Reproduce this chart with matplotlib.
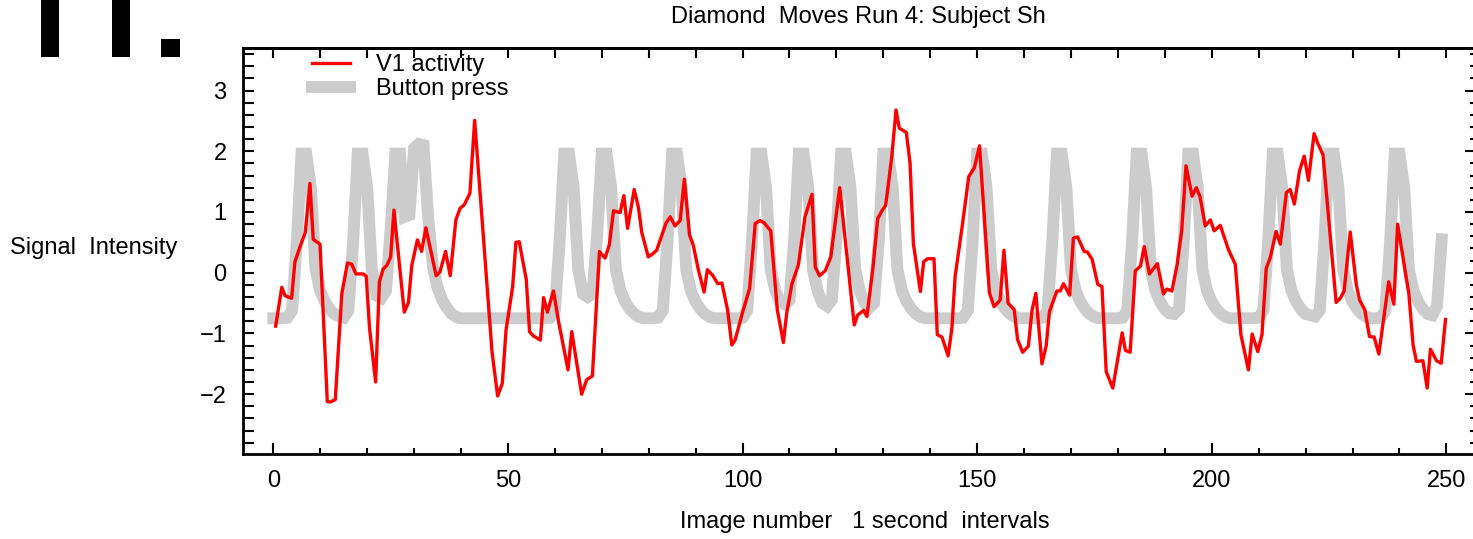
import numpy as np
import matplotlib
matplotlib.use("Agg")
import matplotlib.pyplot as plt
from matplotlib.patches import Rectangle
from matplotlib.ticker import MultipleLocator

plt.rcParams["font.family"] = ["Liberation Sans", "DejaVu Sans"]

# V1 activity (red)
red_x = [0.5, 1.8, 2.5, 3.9, 4.6, 5.7, 6.8, 7.8, 8.5, 9.95,
         11.5, 12.1, 13.2, 14.6, 15.8, 16.7, 17.6, 19.2, 19.8, 20.5,
         21.8, 22.6, 23.4, 24.2, 25.0, 25.7, 27.9, 28.8, 29.5, 30.7,
         31.6, 32.5, 34.7, 35.5, 36.7, 37.7, 38.9, 39.8, 40.7, 41.9,
         42.9, 46.6, 47.8, 48.8, 49.6, 51.0, 51.7, 52.4, 53.9, 54.6,
         55.4, 56.9, 57.6, 58.4, 59.7, 60.8, 62.8, 63.6, 65.7, 66.8,
         68.0, 69.5, 70.7, 71.6, 72.5, 73.9, 74.7, 75.5, 76.9, 77.8,
         78.5, 79.9, 81.0, 81.7, 83.7, 84.6, 85.6, 86.7, 87.6, 88.7,
         89.5, 90.6, 91.8, 92.5, 93.7, 94.7, 95.6, 96.8, 97.7, 98.4,
         100.2, 101.5, 102.7, 103.7, 104.6, 106.0, 107.4, 108.7, 109.4, 110.5,
         111.9, 113.3, 114.8, 115.5, 116.4, 117.6, 118.8, 120.7, 123.8, 124.5,
         125.8, 126.5, 127.8, 128.8, 129.7, 130.5, 131.8, 132.7, 133.4, 134.9,
         135.7, 136.4, 137.9, 138.6, 139.4, 140.8, 141.5, 142.5, 143.8, 144.6,
         145.3, 146.8, 148.2, 149.4, 150.5, 152.6, 153.6, 154.9, 155.7, 156.6,
         157.9, 158.6, 159.7, 160.9, 161.7, 162.5, 163.8, 164.7, 165.4, 167.0,
         167.7, 168.4, 169.7, 170.5, 171.4, 172.8, 173.5, 174.5, 175.7, 176.6,
         177.5, 178.9, 180.9, 181.6, 182.6, 183.7, 184.8, 185.6, 186.7, 188.4,
         189.7, 190.4, 191.5, 192.6, 193.6, 194.5, 195.8, 196.7, 197.5, 198.6,
         199.7, 200.5, 201.8, 203.6, 205.0, 206.2, 207.8, 208.6, 209.8, 210.7,
         211.6, 212.5, 213.7, 214.6, 215.9, 216.7, 217.6, 218.7, 219.7, 220.6,
         221.8, 222.6, 223.7, 226.5, 227.4, 228.2, 229.5, 230.8, 231.5, 232.6,
         233.6, 234.6, 235.6, 237.7, 238.8, 239.6, 240.5, 242.0, 242.9, 243.6,
         245.0, 245.9, 246.6, 247.9, 248.9, 249.8]
red_y = [-0.88, -0.24, -0.38, -0.42, 0.18, 0.43, 0.66, 1.47, 0.55, 0.47,
         -2.12, -2.13, -2.09, -0.34, 0.16, 0.14, -0.02, -0.02, -0.06, -0.91,
         -1.80, -0.15, 0.06, 0.12, 0.26, 1.03, -0.65, -0.49, 0.12, 0.54,
         0.35, 0.74, -0.05, 0.01, 0.35, -0.05, 0.87, 1.06, 1.12, 1.31,
         2.51, -1.30, -2.03, -1.82, -0.94, -0.23, 0.50, 0.51, -0.11, -0.97,
         -1.04, -1.11, -0.41, -0.65, -0.30, -0.81, -1.60, -0.97, -2.00, -1.76,
         -1.70, 0.35, 0.24, 0.46, 1.02, 0.99, 1.27, 0.73, 1.37, 1.08,
         0.67, 0.26, 0.32, 0.37, 0.82, 0.92, 0.77, 0.86, 1.54, 0.62,
         0.45, 0.04, -0.32, 0.05, -0.05, -0.18, -0.17, -0.61, -1.19, -1.11,
         -0.60, -0.26, 0.81, 0.86, 0.82, 0.69, -0.61, -1.15, -0.67, -0.19,
         0.13, 0.92, 1.29, 0.09, -0.05, 0.03, 0.26, 1.40, -0.86, -0.70,
         -0.62, -0.72, 0.09, 0.89, 1.02, 1.11, 1.91, 2.68, 2.38, 2.31,
         1.80, 0.48, -0.31, 0.18, 0.23, 0.23, -1.02, -1.06, -1.37, -0.92,
         -0.06, 0.76, 1.58, 1.73, 2.09, -0.33, -0.56, -0.45, 0.37, -0.50,
         -0.61, -1.10, -1.31, -1.21, -0.61, -0.34, -1.50, -1.21, -0.64, -0.30,
         -0.30, -0.18, -0.37, 0.57, 0.59, 0.35, 0.34, 0.22, -0.19, -0.23,
         -1.63, -1.90, -0.99, -1.28, -1.31, 0.03, 0.11, 0.43, -0.02, 0.15,
         -0.35, -0.27, -0.30, 0.13, 0.70, 1.76, 1.26, 1.40, 1.25, 0.77,
         0.87, 0.69, 0.78, 0.37, 0.14, -1.02, -1.60, -1.01, -1.30, -1.02,
         0.07, 0.26, 0.68, 0.47, 1.32, 1.37, 1.13, 1.68, 1.92, 1.52,
         2.29, 2.13, 1.94, -0.49, -0.42, -0.30, 0.67, -0.20, -0.45, -0.61,
         -1.05, -1.06, -1.34, -0.15, -0.52, 0.80, 0.37, -0.35, -1.19, -1.46,
         -1.45, -1.90, -1.26, -1.45, -1.49, -0.77]

# Button press regressor (grey), one value per image 0..249
gray_y = [-0.75, -0.75, -0.75, -0.74, -0.62, 0.50, 1.96, 1.96, 1.40, 0.05,
          -0.30, -0.48, -0.60, -0.68, -0.72, -0.74, -0.62, 0.50, 1.96, 1.96,
          1.40, 0.05, -0.38, -0.42, -0.30, 0.70, 1.96, 1.96, 0.92, 0.95,
          2.05, 2.12, 2.10, 0.90, 0.10, -0.25, -0.45, -0.58, -0.68, -0.73,
          -0.75, -0.75, -0.75, -0.75, -0.75, -0.75, -0.75, -0.75, -0.75, -0.75,
          -0.75, -0.75, -0.75, -0.75, -0.75, -0.75, -0.75, -0.75, -0.75, -0.74,
          -0.62, 0.50, 1.96, 1.96, 1.40, 0.05, -0.35, -0.40, -0.35, 0.60,
          1.96, 1.96, 1.40, 0.05, -0.30, -0.48, -0.60, -0.68, -0.73, -0.75,
          -0.75, -0.75, -0.74, -0.62, 0.50, 1.96, 1.96, 1.40, 0.05, -0.30,
          -0.48, -0.60, -0.68, -0.73, -0.75, -0.75, -0.75, -0.75, -0.75, -0.75,
          -0.74, -0.62, 0.50, 1.96, 1.96, 1.40, 0.05, -0.30, -0.48, -0.52,
          -0.45, 0.55, 1.96, 1.96, 1.40, 0.05, -0.30, -0.50, -0.55, -0.45,
          0.55, 1.96, 1.96, 1.40, 0.05, -0.30, -0.50, -0.58, -0.50, 0.50,
          1.96, 1.96, 1.40, 0.05, -0.30, -0.48, -0.60, -0.68, -0.73, -0.75,
          -0.75, -0.75, -0.75, -0.75, -0.75, -0.75, -0.75, -0.74, -0.62, 0.50,
          1.96, 1.96, 1.40, 0.05, -0.30, -0.48, -0.60, -0.68, -0.73, -0.75,
          -0.75, -0.75, -0.75, -0.75, -0.74, -0.62, 0.50, 1.96, 1.96, 1.40,
          0.05, -0.30, -0.48, -0.60, -0.68, -0.73, -0.75, -0.75, -0.75, -0.75,
          -0.75, -0.74, -0.62, 0.50, 1.96, 1.96, 1.40, 0.05, -0.30, -0.48,
          -0.60, -0.67, -0.68, -0.60, 0.50, 1.96, 1.96, 1.40, 0.05, -0.30,
          -0.48, -0.60, -0.68, -0.73, -0.75, -0.75, -0.75, -0.75, -0.75, -0.75,
          -0.74, -0.62, 0.50, 1.96, 1.96, 1.40, 0.05, -0.30, -0.48, -0.60,
          -0.68, -0.70, -0.72, -0.62, 0.50, 1.96, 1.96, 1.40, 0.05, -0.30,
          -0.48, -0.60, -0.68, -0.73, -0.75, -0.75, -0.74, -0.62, 0.50, 1.96,
          1.96, 1.40, 0.05, -0.30, -0.48, -0.60, -0.68, -0.70, -0.55, 0.55]
gray_x = np.arange(len(gray_y))

title = "Diamond  Moves Run 4: Subject Sh"
x_label = "Image number   1 second  intervals"
y_label = "Signal  Intensity"

W, H = 1473, 539
FS = 17


def box(x0, y0, x1, y1):
    # pixel box (top-left origin) -> figure fraction rect
    return [x0 / W, 1 - y1 / H, (x1 - x0) / W, (y1 - y0) / H]


fig = plt.figure(figsize=(W / 100, H / 100), dpi=100)
ax = fig.add_axes(box(243.3, 48, 1475.5, 454.3))

ax.plot(gray_x, gray_y, color="#cccccc", lw=8.6, solid_capstyle="projecting",
        solid_joinstyle="miter", label="Button press", zorder=2)
ax.plot(red_x, red_y, color="#ff0000", lw=2.4, label="V1 activity", zorder=3)

ax.set_xlim(-6.4, 256.2)
ax.set_ylim(-2.99, 3.70)

for s in ax.spines.values():
    s.set_linewidth(2.0)

# bottom / left ticks
ax.xaxis.set_major_locator(MultipleLocator(50))
ax.xaxis.set_minor_locator(MultipleLocator(10))
ax.yaxis.set_major_locator(MultipleLocator(1))
ax.yaxis.set_minor_locator(MultipleLocator(0.2))
ax.tick_params(axis="x", which="major", direction="in", length=8, width=1.5,
               top=False, labelsize=FS, pad=11)
ax.tick_params(axis="x", which="minor", direction="in", length=4.3, width=1.5, top=False)
ax.tick_params(axis="y", which="both", direction="in", length=8, width=1.5,
               right=False, labelsize=FS, pad=12)

# top ticks
secx = ax.secondary_xaxis("top")
secx.xaxis.set_major_locator(MultipleLocator(50))
secx.xaxis.set_minor_locator(MultipleLocator(10))
secx.tick_params(which="both", direction="in", length=7, width=1.5, labeltop=False)
secx.spines["top"].set_linewidth(2.0)

# right ticks
secy = ax.secondary_yaxis("right")
secy.yaxis.set_major_locator(MultipleLocator(1))
secy.yaxis.set_minor_locator(MultipleLocator(0.2))
secy.tick_params(which="major", direction="in", length=8, width=1.5, labelright=False)
secy.tick_params(which="minor", direction="in", length=4.5, width=1.5)
secy.spines["right"].set_linewidth(2.0)

handles, labels = ax.get_legend_handles_labels()
ax.legend(handles[::-1], labels[::-1], loc="upper left",
          bbox_to_anchor=((312 - 243.3) / 1232.2, (454.3 - 54) / 406.3),
          frameon=False, borderpad=0, borderaxespad=0, handlelength=1.61,
          handletextpad=1.1, labelspacing=0.1, fontsize=FS)

fig.text(858 / W, 1 - 17 / H, title, ha="center", va="center", fontsize=FS)
fig.text(865 / W, 1 - 522 / H, x_label, ha="center", va="center", fontsize=FS)
fig.text(10 / W, 1 - 248 / H, y_label, ha="left", va="center", fontsize=FS)

# cropped heading fragment at the top left
for x0, y0, x1, y1 in [(40.7, 0, 59.3, 57.3), (112, 0, 130, 57.3), (161, 39, 180, 57.3)]:
    fig.add_artist(Rectangle((x0 / W, 1 - y1 / H), (x1 - x0) / W, (y1 - y0) / H,
                             transform=fig.transFigure, color="black", lw=0))

fig.savefig("out.png", dpi=100)
